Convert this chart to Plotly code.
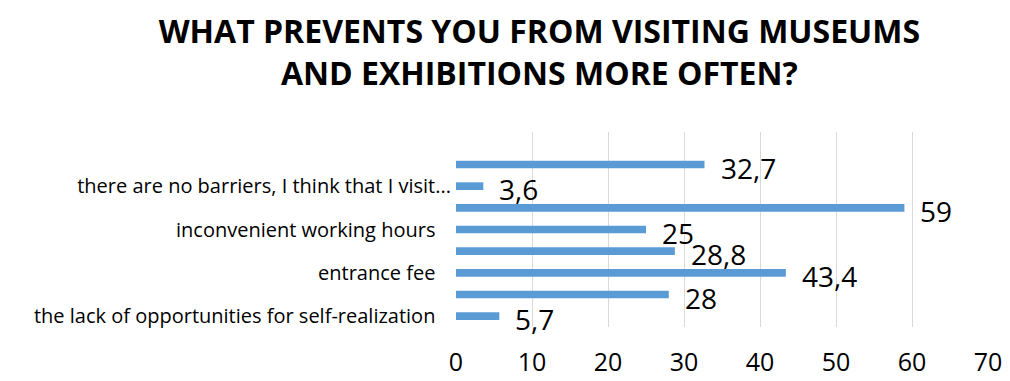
import plotly.graph_objects as go

# Categories listed bottom-to-top (Excel order); hidden labels were skipped by the source chart
categories = [
    "the lack of opportunities for self-realization",
    "category 2",
    "entrance fee",
    "category 4",
    "inconvenient working hours",
    "category 6",
    "there are no barriers, I think that I visit...",
    "category 8",
    "",
]
shown_label = [True, False, True, False, True, False, True, False, False]
values = [5.7, 28, 43.4, 28.8, 25, 59, 3.6, 32.7, None]
x_ticks = [0, 10, 20, 30, 40, 50, 60, 70]

title_text = "WHAT PREVENTS YOU FROM VISITING MUSEUMS<br>AND EXHIBITIONS MORE OFTEN?"
bar_color = "#5B9BD5"
grid_color = "#D9D9D9"
FONT = "Open Sans"

pos = list(range(len(categories)))
tickvals = [p for p, s in zip(pos, shown_label) if s]
ticktext = [
    (c if c.endswith("...") else c + "\u00a0\u00a0\u00a0")
    for c, s in zip(categories, shown_label) if s
]

fig = go.Figure()
fig.add_trace(go.Bar(
    x=values,
    y=pos,
    orientation="h",
    marker=dict(color=bar_color, line=dict(width=0)),
    hoverinfo="skip",
))

for p, v in zip(pos, values):
    if v is None:
        continue
    fig.add_annotation(
        x=v, y=p, xref="x", yref="y",
        text=(f"{v:g}").replace(".", ","),
        showarrow=False, xanchor="left", yanchor="middle",
        xshift=14, yshift=-3,
        font=dict(family=FONT, size=28, color="#000000"),
    )

fig.update_layout(
    width=1010, height=381,
    margin=dict(l=456, r=22, t=132, b=54),
    paper_bgcolor="white", plot_bgcolor="white",
    bargap=0.645,
    showlegend=False,
    title=dict(
        text=title_text,
        x=0.534, xanchor="center",
        y=0.886, yanchor="middle",
        font=dict(family=FONT, size=32, color="#000000", weight="bold"),
    ),
    xaxis=dict(
        range=[0, 70],
        tickvals=x_ticks,
        showgrid=True, gridcolor=grid_color, gridwidth=1,
        zeroline=False, showline=False,
        ticks="", ticklabelstandoff=18,
        tickfont=dict(family=FONT, size=25, color="#000000"),
        automargin=False,
        fixedrange=True,
    ),
    yaxis=dict(
        range=[-0.5, len(categories) - 0.5],
        tickvals=tickvals, ticktext=ticktext,
        showgrid=False, zeroline=False, showline=False,
        ticks="", ticklabelstandoff=4,
        tickfont=dict(family=FONT, size=20, color="#000000"),
        automargin=False,
        fixedrange=True,
    ),
)

fig.write_html("out.html")
